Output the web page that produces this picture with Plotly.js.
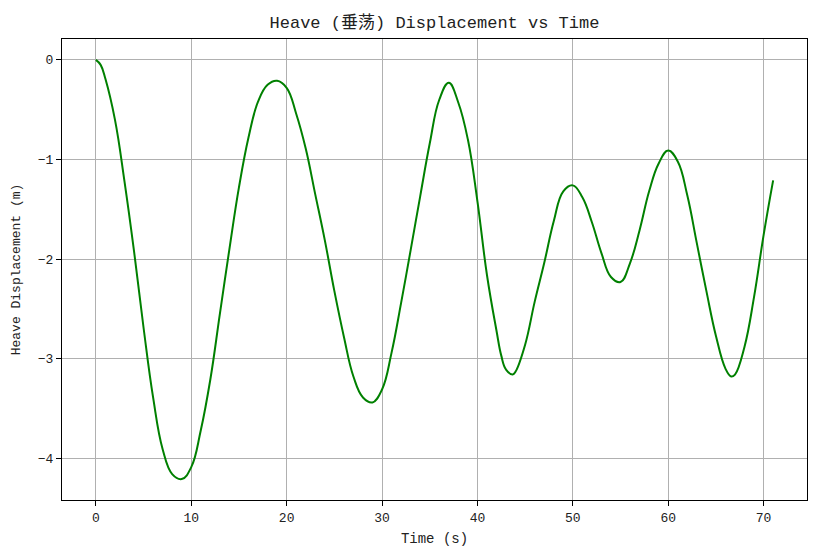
<!DOCTYPE html>
<html>
<head>
<meta charset="utf-8">
<script src="https://cdn.plot.ly/plotly-3.0.1.min.js"></script>
<style>html,body{margin:0;padding:0;background:#fff;}#chart{width:817px;height:558px;}</style>
</head>
<body>
<div id="chart"></div>
<script>
const timeS = [0,0.5,1,2,3,4,5,6,7,8,9,10,11,12,13,14,15,16,17,18,19,20,21,22,23,24,25,26,27,28,29,30,31,32,33,34,35,36,37,38,39,40,41,42,42.5,43,43.7,44,45,46,47,48,49,50,51,52,53,54,55,56,57,58,59,60,61,62,63,64,65,66,66.6,67,68,69,70,71];
const heaveM = [0,-0.05,-0.19,-0.60,-1.22,-1.92,-2.69,-3.39,-3.91,-4.16,-4.21,-4.09,-3.72,-3.21,-2.55,-1.90,-1.28,-0.78,-0.42,-0.25,-0.21,-0.28,-0.54,-0.89,-1.35,-1.81,-2.32,-2.78,-3.18,-3.39,-3.44,-3.31,-2.94,-2.44,-1.91,-1.37,-0.84,-0.40,-0.23,-0.43,-0.80,-1.42,-2.16,-2.72,-2.97,-3.11,-3.16,-3.13,-2.86,-2.43,-2.04,-1.62,-1.32,-1.26,-1.38,-1.63,-1.94,-2.18,-2.23,-2.04,-1.71,-1.32,-1.04,-0.91,-1.02,-1.36,-1.84,-2.32,-2.77,-3.10,-3.18,-3.16,-2.88,-2.38,-1.76,-1.21];
const xTicks = [0,10,20,30,40,50,60,70];
const yTicks = [0,-1,-2,-3,-4];

const fontFam = '"Liberation Mono", "Noto Sans CJK SC", monospace';

const trace = {
  x: timeS, y: heaveM, type: 'scatter', mode: 'lines',
  line: {color: '#008000', width: 2, shape: 'spline', smoothing: 1.2},
  hoverinfo: 'skip'
};

const axisCommon = {
  showline: true, linecolor: '#000', linewidth: 1, mirror: true,
  ticks: 'outside', ticklen: 5, tickwidth: 1, tickcolor: '#000',
  showgrid: true, gridcolor: '#b0b0b0', gridwidth: 1,
  zeroline: false,
  tickfont: {family: fontFam, size: 13, color: '#222'}
};

const layout = {
  width: 817, height: 558,
  margin: {l: 62, r: 10, t: 39, b: 58},
  paper_bgcolor: '#fff', plot_bgcolor: '#fff',
  showlegend: false,
  font: {family: fontFam, color: '#222'},
  title: {text: 'Heave (垂荡) Displacement vs Time', font: {family: fontFam, size: 17, color: '#222'},
          xref: 'paper', x: 0.5, xanchor: 'center', yref: 'container', y: 0.961, yanchor: 'middle'},
  xaxis: Object.assign({}, axisCommon, {
    range: [-3.55, 74.55], tickvals: xTicks, ticktext: xTicks.map(String),
    title: {text: 'Time (s)', font: {family: fontFam, size: 14, color: '#222'}, standoff: 8}
  }),
  yaxis: Object.assign({}, axisCommon, {
    range: [-4.42, 0.21], tickvals: yTicks,
    title: {text: 'Heave Displacement (m)', font: {family: fontFam, size: 13, color: '#222'}, standoff: 14}
  })
};

Plotly.newPlot('chart', [trace], layout, {staticPlot: true, displayModeBar: false});
</script>
</body>
</html>
